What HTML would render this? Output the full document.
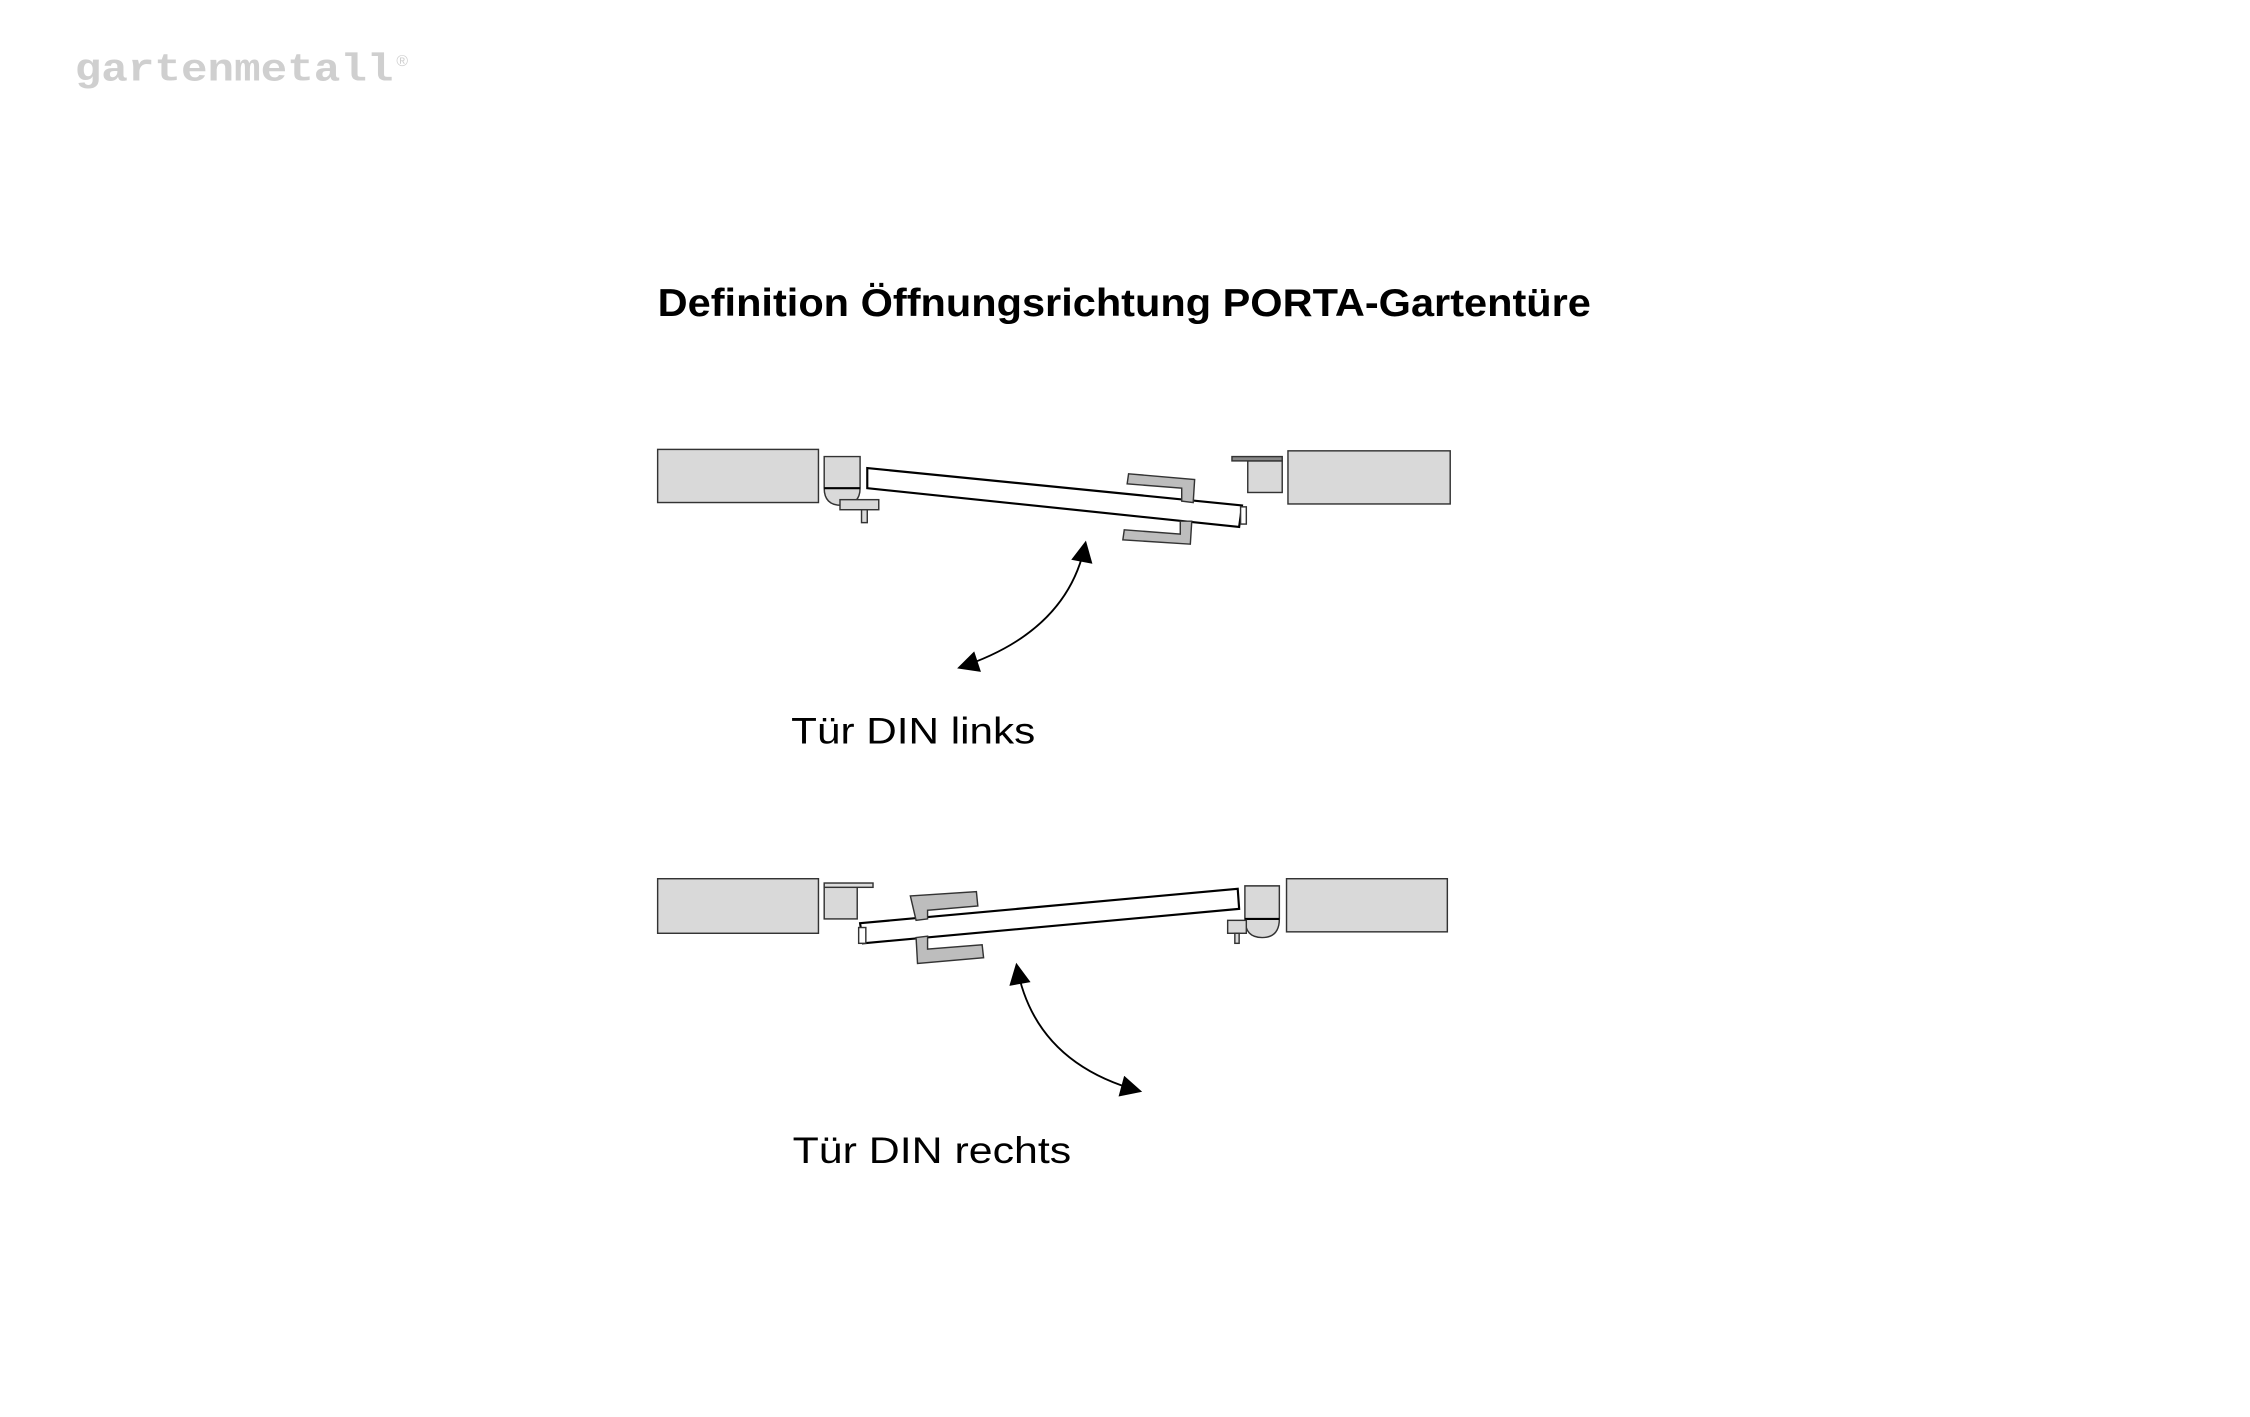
<!DOCTYPE html>
<html><head><meta charset="utf-8"><style>
html,body{margin:0;padding:0;background:#fff;width:2250px;height:1417px;overflow:hidden}
svg{display:block}
</style></head><body>
<svg width="2250" height="1417" viewBox="0 0 1567 986.9" xmlns="http://www.w3.org/2000/svg">
<defs>
<marker id="ah" viewBox="0 0 10 10" refX="9" refY="5" markerWidth="17" markerHeight="15" orient="auto-start-reverse" markerUnits="userSpaceOnUse">
<path d="M0,0 L10,5 L0,10 z" fill="#000"/>
</marker>
</defs>
<text x="52" y="56" font-family="Liberation Mono, monospace" font-weight="bold" font-size="27" fill="#cfcfcf" textLength="222" lengthAdjust="spacingAndGlyphs">gartenmetall</text>
<text x="276" y="46" font-family="Liberation Sans, sans-serif" font-size="11" fill="#cfcfcf">®</text>

<text x="458" y="220" font-family="Liberation Sans, sans-serif" font-weight="bold" font-size="27" fill="#000" textLength="650" lengthAdjust="spacingAndGlyphs">Definition Öffnungsrichtung PORTA-Gartentüre</text>

<g stroke="#333" stroke-width="1">
<rect x="458" y="313" width="112" height="37" fill="#d9d9d9"/>
<path d="M574,318 H599 V340 Q599,352 586,352 Q574,352 574,340 Z" fill="#d9d9d9"/>
<line x1="574" y1="340" x2="599" y2="340" stroke="#000" stroke-width="1.5"/>
<rect x="585" y="348" width="27" height="7" fill="#d9d9d9"/>
<rect x="600" y="355" width="4" height="9" fill="#d9d9d9"/>
<polygon points="604,326 865,352 863,367 604,340" fill="#fff" stroke="#000" stroke-width="1.5"/>
<rect x="864" y="353" width="4" height="12" fill="#fff"/>
<path d="M786,330 L832,334 L831,350 L823,349 L823,340 L785,337 Z" fill="#bdbdbd"/>
<path d="M783,369 L822,372 L822,363 L830,363 L829,379 L782,376 Z" fill="#bdbdbd"/>
<rect x="897" y="314" width="113" height="37" fill="#d9d9d9"/>
<rect x="869" y="321" width="24" height="22" fill="#d9d9d9"/>
<rect x="858" y="318" width="35" height="3" fill="#888"/>

<rect x="458" y="612" width="112" height="38" fill="#d9d9d9"/>
<rect x="574" y="616" width="23" height="24" fill="#d9d9d9"/>
<rect x="574" y="615" width="34" height="3" fill="#ddd"/>
<polygon points="599,643 862,619 863,633 601,657" fill="#fff" stroke="#000" stroke-width="1.5"/>
<rect x="598" y="646" width="5" height="11" fill="#fff"/>
<path d="M634,624 L680,621 L681,631 L646,634 L646,640 L638,641 Z" fill="#bdbdbd"/>
<path d="M638,653 L646,652 L646,661 L684,658 L685,667 L639,671 Z" fill="#bdbdbd"/>
<path d="M867,617 H891 V640 Q891,653 879,653 Q867,653 867,640 Z" fill="#d9d9d9"/>
<line x1="867" y1="640" x2="891" y2="640" stroke="#000" stroke-width="1.5"/>
<rect x="855" y="641" width="13" height="9" fill="#d9d9d9"/>
<rect x="860" y="650" width="3" height="7" fill="#d9d9d9"/>
<rect x="896" y="612" width="112" height="37" fill="#d9d9d9"/>
</g>

<path d="M756,378 Q744,440 668,465" fill="none" stroke="#000" stroke-width="1.3" marker-start="url(#ah)" marker-end="url(#ah)"/>
<path d="M708,672 Q720,740 794,760" fill="none" stroke="#000" stroke-width="1.3" marker-start="url(#ah)" marker-end="url(#ah)"/>

<text x="551" y="518" font-family="Liberation Sans, sans-serif" font-size="26" fill="#000" textLength="170" lengthAdjust="spacingAndGlyphs">Tür DIN links</text>
<text x="552" y="810" font-family="Liberation Sans, sans-serif" font-size="26" fill="#000" textLength="194" lengthAdjust="spacingAndGlyphs">Tür DIN rechts</text>
</svg>
</body></html>
